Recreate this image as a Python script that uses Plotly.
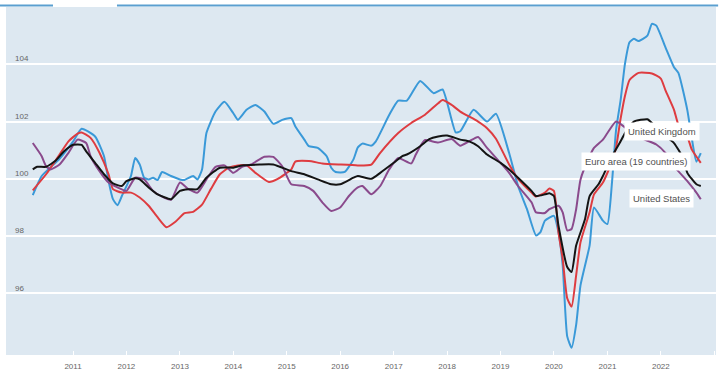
import plotly.graph_objects as go

# ---- data (monthly composite leading indicator) ----
uk_dates = ["2010-04","2010-06","2010-10","2011-01","2011-03","2011-06","2011-08","2011-09","2011-10","2011-11","2011-12",
            "2012-02","2012-03","2012-04","2012-05","2012-06","2012-07","2012-08","2012-09","2012-11",
            "2013-01","2013-02","2013-04","2013-05","2013-06","2013-07","2013-09","2013-11",
            "2014-01","2014-02","2014-04","2014-06","2014-08","2014-10","2014-12",
            "2015-02","2015-03","2015-05","2015-06","2015-08","2015-10","2015-11","2015-12",
            "2016-02","2016-04","2016-05","2016-06","2016-08","2016-09","2016-12",
            "2017-02","2017-04","2017-07","2017-10","2017-12",
            "2018-03","2018-04","2018-07","2018-10","2018-12",
            "2019-03","2019-05","2019-07","2019-09","2019-10","2019-11",
            "2020-01","2020-02","2020-03","2020-04","2020-05","2020-06","2020-07","2020-09","2020-10","2020-12",
            "2021-01","2021-02","2021-03","2021-04","2021-05","2021-06","2021-07","2021-08","2021-10","2021-11","2021-12",
            "2022-02","2022-04","2022-05","2022-07","2022-08","2022-09","2022-10"]
uk_values = [99.43,100.1,100.7,101.3,101.75,101.48,100.79,99.92,99.29,99.08,99.4,
             100.1,100.73,100.5,100.04,99.98,100.04,99.96,100.24,100.1,
             99.98,99.96,100.1,99.98,100.33,101.6,102.35,102.69,
             102.29,102.06,102.41,102.58,102.35,101.92,102.06,
             102.12,101.83,101.37,101.14,101.08,100.79,100.39,100.24,
             100.24,100.68,101.1,101.23,101.16,101.31,102.23,
             102.73,102.73,103.42,102.99,103.12,
             101.62,101.66,102.41,102.0,102.27,
             100.9,99.75,98.94,98.02,98.14,98.54,
             98.71,98.14,96.98,94.5,94.1,94.9,96.29,97.67,99.0,98.54,
             98.42,99.87,101.71,102.75,104.02,104.77,104.89,104.81,105.0,105.41,105.35,
             104.6,103.9,103.7,102.4,101.4,100.6,100.9]

ea_dates = ["2010-04","2010-07","2010-10","2010-12","2011-02","2011-03","2011-05","2011-07","2011-09","2011-10","2011-12",
            "2012-02","2012-04","2012-06","2012-08","2012-10","2012-12",
            "2013-02","2013-04","2013-06","2013-08","2013-10","2013-12",
            "2014-02","2014-04","2014-06","2014-09","2014-11",
            "2015-02","2015-03","2015-06","2015-09",
            "2016-01","2016-05","2016-08","2016-10",
            "2017-02","2017-05","2017-08","2017-11","2017-12",
            "2018-02","2018-04","2018-08","2018-10","2018-12",
            "2019-03","2019-05","2019-08","2019-09","2019-11","2019-12",
            "2020-01","2020-02","2020-03","2020-04","2020-05","2020-06","2020-07","2020-09","2020-10","2020-12",
            "2021-02","2021-03","2021-04","2021-05","2021-06","2021-08","2021-11",
            "2022-01","2022-02","2022-04","2022-05","2022-07","2022-08","2022-10"]
ea_values = [99.6,100.16,100.85,101.31,101.58,101.62,101.43,100.91,100.16,99.64,99.52,
             99.52,99.35,99.06,98.66,98.31,98.5,
             98.8,98.85,99.1,99.65,100.16,100.39,
             100.47,100.47,100.21,99.89,100.0,
             100.33,100.6,100.62,100.54,
             100.5,100.47,100.5,100.91,
             101.6,101.95,102.23,102.64,102.75,
             102.58,102.35,102.0,101.77,101.4,
             100.5,100.0,99.52,99.38,99.52,99.66,
             99.58,98.14,97.21,95.83,95.54,96.63,97.79,98.83,99.46,99.87,
             100.6,101.1,102.1,102.9,103.45,103.7,103.68,
             103.5,103.1,102.41,101.89,101.48,101.02,100.56]

us_dates = ["2010-04","2010-06","2010-07","2010-08","2010-10","2010-12","2011-02","2011-04","2011-05","2011-07","2011-09","2011-11",
            "2012-01","2012-03","2012-05","2012-07","2012-09","2012-11",
            "2013-01","2013-03","2013-05","2013-07","2013-09","2013-11",
            "2014-01","2014-03","2014-05","2014-08","2014-10","2014-12",
            "2015-02","2015-05","2015-07","2015-09","2015-11",
            "2016-01","2016-03","2016-05","2016-06","2016-08","2016-10","2016-12",
            "2017-02","2017-05","2017-06","2017-08","2017-11",
            "2018-02","2018-04","2018-06","2018-08","2018-10",
            "2019-01","2019-03","2019-05","2019-08","2019-09","2019-11","2019-12",
            "2020-02","2020-03","2020-04","2020-05","2020-06","2020-07","2020-09","2020-10","2020-12",
            "2021-01","2021-03","2021-05","2021-07","2021-09","2021-12",
            "2022-02","2022-04","2022-07","2022-09","2022-10"]
us_values = [101.25,100.79,100.44,100.33,100.5,100.91,101.37,101.25,100.79,100.27,99.87,99.7,
             99.58,100.04,99.98,99.58,99.38,99.27,
             99.87,99.64,99.52,99.98,100.42,100.47,
             100.21,100.42,100.5,100.77,100.77,100.44,
             99.81,99.75,99.58,99.18,98.88,
             99.0,99.4,99.7,99.75,99.46,99.75,100.33,
             100.73,100.54,100.85,101.35,101.27,
             101.39,101.16,101.31,101.46,101.08,
             100.56,100.21,99.75,99.18,98.83,98.81,98.94,
             99.06,98.83,98.2,98.25,98.94,99.98,100.79,101.08,101.37,
             101.6,102.0,101.8,101.6,101.4,101.2,
             100.91,100.44,99.92,99.52,99.29]

oecd_dates = ["2010-04","2010-05","2010-07","2010-09","2010-11","2011-01","2011-03","2011-04","2011-06","2011-08","2011-10","2011-12",
              "2012-01","2012-03","2012-04","2012-06","2012-08","2012-11",
              "2013-01","2013-03","2013-05","2013-07","2013-10",
              "2014-01","2014-03","2014-07","2014-10",
              "2015-02","2015-05","2015-08","2015-11",
              "2016-01","2016-04","2016-05","2016-08","2016-10",
              "2017-01","2017-03","2017-04","2017-07","2017-09","2017-11",
              "2018-01","2018-04","2018-06","2018-08","2018-10",
              "2019-01","2019-03","2019-05","2019-08","2019-09","2019-11","2019-12",
              "2020-01","2020-02","2020-04","2020-05","2020-06","2020-08","2020-09","2020-11","2020-12",
              "2021-02","2021-04","2021-05","2021-07","2021-10","2021-11",
              "2022-01","2022-04","2022-06","2022-07","2022-09","2022-10"]
oecd_values = [100.33,100.42,100.42,100.62,100.96,101.19,101.19,100.96,100.56,100.16,99.84,99.75,
               99.92,100.02,99.98,99.7,99.46,99.29,
               99.58,99.64,99.64,100.04,100.39,
               100.39,100.47,100.5,100.5,
               100.27,100.16,99.98,99.81,
               99.81,100.04,100.1,100.0,100.21,
               100.56,100.79,100.85,101.14,101.39,101.48,
               101.51,101.37,101.31,101.14,100.85,
               100.56,100.33,100.04,99.58,99.4,99.46,99.5,
               99.4,98.37,96.92,96.75,97.67,98.6,99.4,99.81,100.1,
               100.79,101.31,101.6,102.0,102.08,101.95,
               101.6,101.25,100.73,100.21,99.81,99.75]

series = [
    ("United Kingdom", uk_dates, uk_values, "#3a99d8"),
    ("Euro area (19 countries)", ea_dates, ea_values, "#de3c40"),
    ("United States", us_dates, us_values, "#8a4a8c"),
    ("OECD - Total", oecd_dates, oecd_values, "#141414"),
]

y_ticks = [96, 98, 100, 102, 104]

fig = go.Figure()
for name, d, v, c in series:
    fig.add_trace(go.Scatter(x=d, y=v, name=name, mode="lines",
                             line=dict(color=c, width=2, shape="spline", smoothing=0.5),
                             showlegend=False, hoverinfo="skip"))

# end labels
label_font = dict(family="Liberation Sans, Arial, sans-serif", size=9.5, color="#505050")
for name, d, v, shift in [("United Kingdom", uk_dates, uk_values, (-1, 22)),
                          ("Euro area (19 countries)", ea_dates, ea_values, (-10, 1)),
                          ("United States", us_dates, us_values, (-7, 1))]:
    fig.add_annotation(x=d[-1], y=v[-1], text=name, showarrow=False,
                       xanchor="right", yanchor="middle", xshift=shift[0], yshift=shift[1],
                       bgcolor="white", borderpad=3, font=label_font)

fig.update_layout(
    width=723, height=377,
    margin=dict(l=6, r=7, t=7, b=20),
    paper_bgcolor="white",
    plot_bgcolor="#dde8f1",
    showlegend=False,
    xaxis=dict(type="date", range=["2009-09-30", "2023-01-13"],
               dtick="M12", tick0="2011-01-01", tickformat="%Y",
               showgrid=False, zeroline=False, showline=False,
               ticks="inside", ticklen=4, tickcolor="white", tickwidth=1,
               ticklabelstandoff=5,
               tickfont=dict(family="Liberation Sans, Arial, sans-serif", size=8, color="#666666")),
    yaxis=dict(range=[93.85, 106.0], tickvals=y_ticks,
               ticklabelposition="inside top", ticklabelstandoff=6,
               showgrid=True, gridcolor="white", gridwidth=1.5,
               zeroline=False, showline=False, ticks="",
               tickfont=dict(family="Liberation Sans, Arial, sans-serif", size=8, color="#666666")),
    shapes=[
        dict(type="line", xref="paper", yref="paper", x0=-0.0085, x1=0.0662, y0=1.004, y1=1.004,
             line=dict(color="#5a9fd0", width=2)),
        dict(type="line", xref="paper", yref="paper", x0=0.1563, x1=1.003, y0=1.004, y1=1.004,
             line=dict(color="#5a9fd0", width=2)),
    ],
)

fig.write_html("out.html", config={"displayModeBar": False},
               post_script="document.body.style.margin='0';")
